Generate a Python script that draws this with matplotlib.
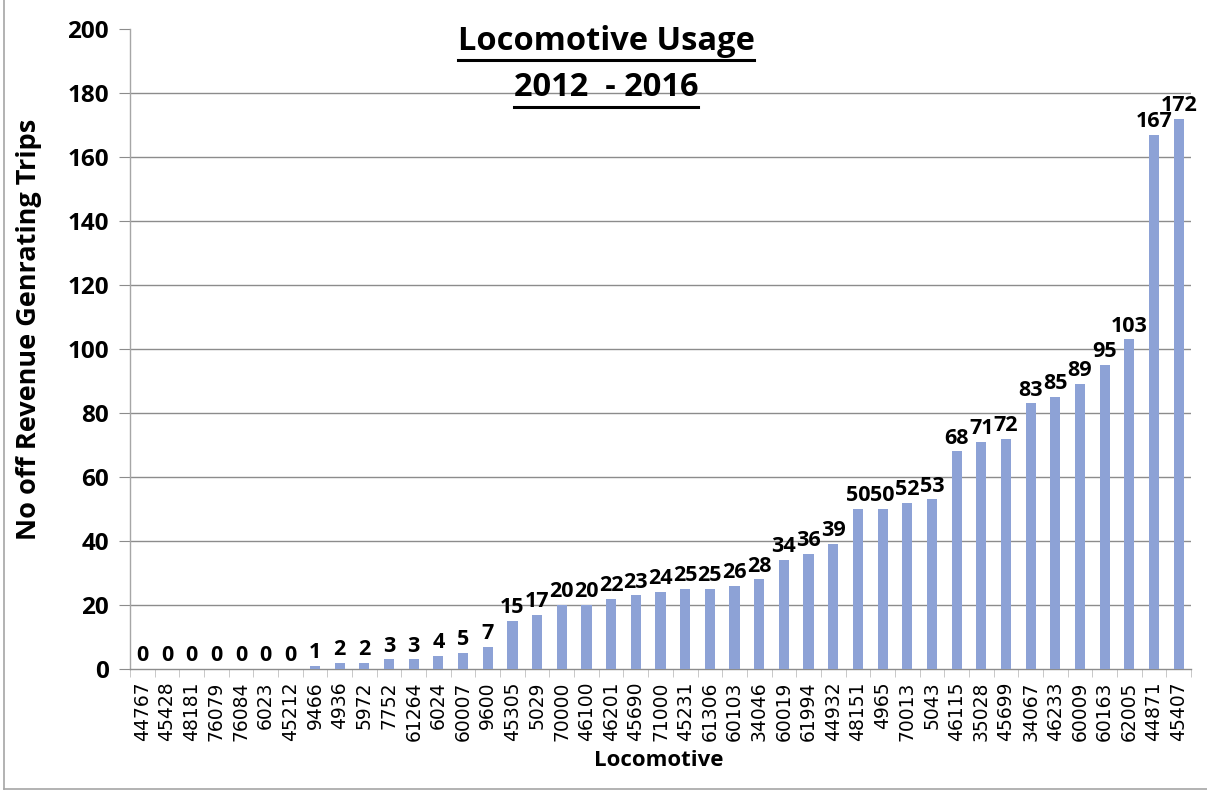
import matplotlib
matplotlib.use("Agg")
import matplotlib.pyplot as plt
from matplotlib.lines import Line2D
import numpy as np

locomotives = ["44767", "45428", "48181", "76079", "76084", "6023", "45212",
               "9466", "4936", "5972", "7752", "61264", "6024", "60007", "9600",
               "45305", "5029", "70000", "46100", "46201", "45690", "71000",
               "45231", "61306", "60103", "34046", "60019", "61994", "44932",
               "48151", "4965", "70013", "5043", "46115", "35028", "45699",
               "34067", "46233", "60009", "60163", "62005", "44871", "45407"]
trips = [0, 0, 0, 0, 0, 0, 0, 1, 2, 2, 3, 3, 4, 5, 7, 15, 17, 20, 20, 22, 23,
         24, 25, 25, 26, 28, 34, 36, 39, 50, 50, 52, 53, 68, 71, 72, 83, 85,
         89, 95, 103, 167, 172]
y_ticks = [0, 20, 40, 60, 80, 100, 120, 140, 160, 180, 200]

BOLD = "Open Sans"

W, H = 1207, 791
fig = plt.figure(figsize=(W / 100, H / 100), dpi=100)
fig.patch.set_facecolor("white")

ax = fig.add_axes([130 / W, 1 - 669 / H, (1191 - 130) / W, (669 - 29) / H])
x = np.arange(len(locomotives))
ax.bar(x, trips, width=0.41, color="#8da2d6", zorder=3)
ax.set_xlim(-0.5, len(locomotives) - 0.5)
ax.set_ylim(0, 200)

grid_color = "#8c8c8c"
for v in y_ticks[1:-1]:
    ax.axhline(v, color=grid_color, lw=1.0, zorder=1)
for s in ["top", "right"]:
    ax.spines[s].set_visible(False)
ax.spines["left"].set_color("#a6a6a6")
ax.spines["bottom"].set_color(grid_color)
ax.spines["left"].set_linewidth(1.0)
ax.spines["bottom"].set_linewidth(1.0)

ax.set_yticks(y_ticks)
ax.set_yticklabels([str(v) for v in y_ticks], fontsize=17.5, fontweight="bold",
                   family=BOLD)
ax.tick_params(axis="y", length=8, color=grid_color, pad=7)

ax.set_xticks(x)
ax.set_xticklabels(locomotives, rotation=90, fontsize=13.5, family="DejaVu Sans",
                   va="top")
ax.tick_params(axis="x", length=0, pad=9)
ax.set_xticks(np.arange(len(locomotives) + 1) - 0.5, minor=True)
ax.tick_params(axis="x", which="minor", length=6, color="#bfbfbf")

for xi, v in zip(x, trips):
    ax.annotate(str(v), (xi, v), xytext=(0, 2), textcoords="offset points",
                ha="center", va="bottom", fontsize=15.5, fontweight="bold",
                family=BOLD, zorder=4)

ax.set_ylabel("No off Revenue Genrating Trips", fontsize=19.5, fontweight="bold",
              family=BOLD)
ax.yaxis.set_label_coords(-0.083, 0.531)
ax.set_xlabel("Locomotive", fontsize=16, fontweight="bold", family=BOLD)
ax.xaxis.set_label_coords(0.498, -0.127)

# Underlined two-line title
title_lines = [("Locomotive Usage", 1 - 41 / H, 1 - 60 / H),
               ("2012  - 2016", 1 - 88 / H, 1 - 107 / H)]
fig.canvas.draw()
renderer = fig.canvas.get_renderer()
for txt, ty, uy in title_lines:
    t = fig.text(606 / W, ty, txt, ha="center", va="center", fontsize=23.5,
                 fontweight="bold", family=BOLD)
    bb = t.get_window_extent(renderer=renderer)
    fig.add_artist(Line2D([bb.x0 / W, bb.x1 / W], [uy, uy], color="black",
                          lw=2.2, transform=fig.transFigure))

# Chart border (left and bottom edges)
fig.add_artist(Line2D([4 / W, 4 / W], [1 - 789 / H, 1.0], color="#a6a6a6",
                      lw=1.2, transform=fig.transFigure))
fig.add_artist(Line2D([4 / W, 1.0], [1 - 789 / H, 1 - 789 / H], color="#a6a6a6",
                      lw=1.2, transform=fig.transFigure))

fig.savefig("out.png", dpi=100)
